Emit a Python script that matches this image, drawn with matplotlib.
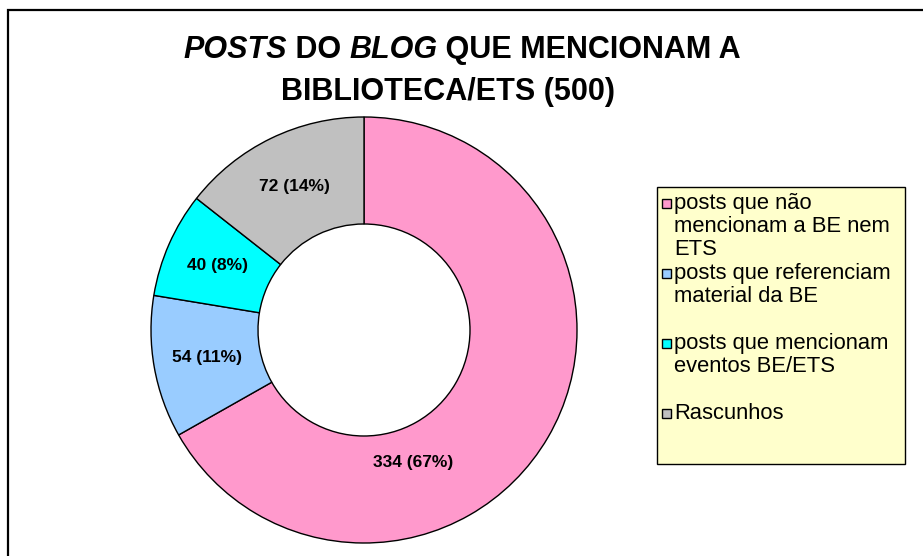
import matplotlib
matplotlib.use('Agg')
import matplotlib.pyplot as plt
import matplotlib.patches as patches
import numpy as np

# Chart data
labels = ['posts que não\nmencionam a BE nem\nETS',
          'posts que referenciam\nmaterial da BE',
          'posts que mencionam\neventos BE/ETS',
          'Rascunhos']
values = [334, 54, 40, 72]
colors = ['#FF99CC', '#99CCFF', '#00FFFF', '#C0C0C0']

W, H = 923, 556
FONT = 'Liberation Sans'

fig = plt.figure(figsize=(W / 100, H / 100), dpi=100)
ax = fig.add_axes([0, 0, 1, 1])


def py(y):
    """Convert a pixel row (from top) to data y."""
    return H - y


# Outer chart frame (cut by the right and bottom edges)
ax.add_patch(patches.Rectangle((8, -20), W + 20, py(10) + 20, fill=False,
                               edgecolor='black', linewidth=1.6))

# Doughnut
cx, cy, r_out, r_in = 364, py(330), 213, 106
total = sum(values)
wedges, _ = ax.pie(values, colors=colors, startangle=90, counterclock=False,
                   center=(cx, cy), radius=r_out,
                   wedgeprops=dict(width=r_out - r_in, edgecolor='black', linewidth=1.0),
                   frame=True)
ax.set_xlim(0, W)
ax.set_ylim(0, H)
ax.set_aspect('equal')
ax.axis('off')

for i, (w, v) in enumerate(zip(wedges, values)):
    ang = np.deg2rad((w.theta1 + w.theta2) / 2)
    dist = 0.75 * r_out
    if i == 0:
        # label was dragged toward the bottom in the original
        ang, dist = np.deg2rad(-69.6), 141
    tx = cx + dist * np.cos(ang)
    ty = cy + dist * np.sin(ang)
    ax.text(tx, ty, f'{v} ({v / total:.0%})', ha='center', va='center',
            fontsize=12.5, fontweight='bold', family=FONT)

# Title with italic words
fig.canvas.draw()
renderer = fig.canvas.get_renderer()


def draw_line(parts, y, xc, size):
    objs = []
    for txt, style in parts:
        t = ax.text(0, y, txt, fontsize=size, fontweight='bold', fontstyle=style,
                    family=FONT, ha='left', va='center')
        objs.append(t)
    widths = [t.get_window_extent(renderer).width for t in objs]
    x = xc - sum(widths) / 2
    for t, wd in zip(objs, widths):
        t.set_x(x)
        x += wd


title_size = 22
draw_line([('POSTS', 'italic'), (' DO ', 'normal'), ('BLOG', 'italic'),
           (' QUE MENCIONAM A', 'normal')], py(50), 462, title_size)
draw_line([('BIBLIOTECA/ETS (500)', 'normal')], py(92), 448, title_size)

# Legend box
ax.add_patch(patches.Rectangle((657, py(464)), 248, 277, facecolor='#FFFFCC',
                               edgecolor='black', linewidth=1.0))
line_h = 23.4
slot = 0
for lab, col in zip(labels, colors):
    y0 = 203 + slot * line_h
    ax.add_patch(patches.Rectangle((662, py(y0) - 4.5), 9, 9, facecolor=col,
                                   edgecolor='black', linewidth=1.0))
    for j, ln in enumerate(lab.split('\n')):
        ax.text(674, py(y0 + j * line_h), ln, fontsize=15.8, family=FONT,
                ha='left', va='center')
    slot += 3

fig.savefig('out.png', dpi=100)
